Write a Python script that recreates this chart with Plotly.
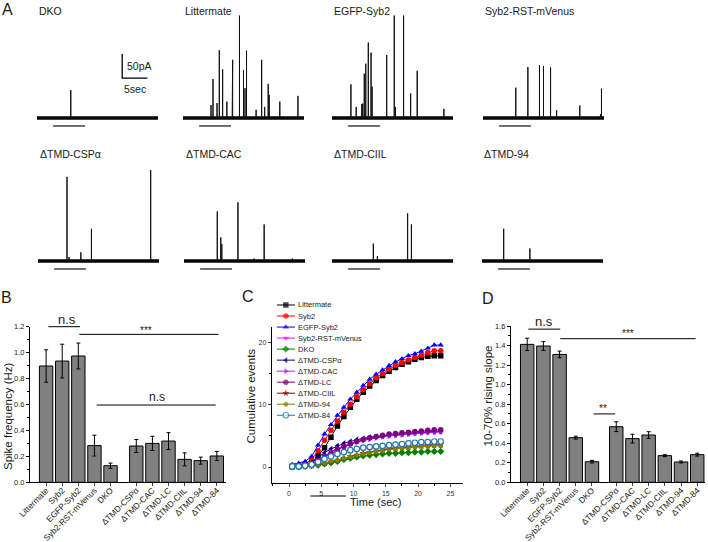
import plotly.graph_objects as go

W, H = 708, 542
FONT = "Liberation Sans, Arial, sans-serif"

# ---------------- Panel A data: spike times (s) and amplitudes (pA) ----------------
trace_labels = ["DKO", "Littermate", "EGFP-Syb2", "Syb2-RST-mVenus",
                "ΔTMD-CSPα", "ΔTMD-CAC", "ΔTMD-CIIL", "ΔTMD-94"]
t_dko = [6.7]
a_dko = [58]
t_litter = [5.56, 5.95, 6.75, 7.2, 7.86, 8.7, 9.75, 9.85, 11.2, 12.0, 12.3, 12.6,
            14.5, 15.6, 16.2, 16.9, 17.1, 19.2, 22.8]
a_litter = [27, 81, 31, 141, 101, 34, 20, 121, 213, 100, 62, 140,
            17, 121, 23, 71, 48, 34, 46]
t_egfp = [3.75, 4.8, 5.9, 6.1, 6.4, 6.7, 7.2, 7.75, 7.95, 10.85, 12.35, 12.6,
          14.2, 15.6, 16.9, 22.2]
a_egfp = [70, 23, 29, 30, 92, 113, 157, 136, 65, 131, 213, 23,
          213, 51, 98, 19]
t_rst = [6.5, 8.9, 11.2, 12.0, 13.4, 14.6, 19.2, 23.3, 23.5]
a_rst = [63, 106, 110, 108, 105, 16, 26, 8, 61]
t_cspa = [5.75, 6.15, 8.5, 10.6, 22.35]
a_cspa = [175, 8, 18, 67, 189]
t_cac = [6.6, 7.3, 7.5, 10.7, 13.9, 15.9, 21.5]
a_cac = [103, 49, 35, 122, 5, 76, 5]
t_ciil = [8.2, 9.0, 15.0, 15.75]
a_ciil = [36, 10, 99, 76]
t_94 = [4.3, 9.5]
a_94 = [67, 26]
trace_duration = 24.0
stim_window_a = [3.2, 9.5]
scale_pa = 50
scale_sec = 5

# ---------------- Panels B and D data ----------------
categories = ["Littermate", "Syb2", "EGFP-Syb2", "Syb2-RST-mVenus", "DKO",
              "ΔTMD-CSPα", "ΔTMD-CAC", "ΔTMD-LC", "ΔTMD-CIIL", "ΔTMD-94", "ΔTMD-84"]
freq_mean = [0.897, 0.935, 0.974, 0.283, 0.128, 0.280, 0.300, 0.318, 0.177, 0.167, 0.203]
freq_sem = [0.125, 0.130, 0.100, 0.080, 0.020, 0.050, 0.055, 0.065, 0.050, 0.027, 0.035]
slope_mean = [1.412, 1.395, 1.309, 0.457, 0.211, 0.569, 0.447, 0.484, 0.273, 0.208, 0.283]
slope_sem = [0.063, 0.045, 0.034, 0.015, 0.013, 0.050, 0.045, 0.034, 0.010, 0.010, 0.015]

# ---------------- Panel C data: cumulative events ----------------
time_s = [0.5, 1.5, 2.5, 3.5, 4.5, 5.5, 6.5, 7.5, 8.5, 9.5, 10.5, 11.5,
          12.5, 13.5, 14.5, 15.5, 16.5, 17.5, 18.5, 19.5, 20.5, 21.5, 22.5, 23.5]
cum_littermate = [0.1, 0.2, 0.3, 0.6, 1.8, 3.1, 4.8, 6.6, 8.1, 9.6, 10.9, 12.0,
                  13.0, 13.9, 14.7, 15.4, 16.0, 16.5, 16.9, 17.3, 17.6, 17.8, 17.9, 17.9]
cum_syb2 = [0.2, 0.3, 0.5, 1.2, 2.6, 4.3, 5.9, 7.4, 8.8, 10.1, 11.3, 12.4,
            13.4, 14.3, 15.0, 15.7, 16.3, 16.8, 17.2, 17.6, 18.0, 18.4, 18.7, 18.7]
cum_egfp = [0.4, 0.6, 0.9, 1.7, 3.5, 5.3, 6.8, 8.3, 9.6, 10.9, 12.0, 13.1,
            14.1, 14.9, 15.6, 16.3, 16.9, 17.4, 17.9, 18.2, 18.6, 19.1, 19.6, 19.6]
cum_rst = [0.1, 0.2, 0.3, 0.5, 1.1, 1.8, 2.5, 3.0, 3.4, 3.7, 4.0, 4.3,
           4.5, 4.7, 4.9, 5.0, 5.1, 5.2, 5.3, 5.4, 5.5, 5.5, 5.6, 5.6]
cum_dko = [0.0, 0.0, 0.1, 0.2, 0.3, 0.5, 0.7, 0.9, 1.2, 1.4, 1.6, 1.8,
           1.9, 2.0, 2.1, 2.2, 2.2, 2.3, 2.3, 2.4, 2.4, 2.5, 2.5, 2.5]
cum_cspa = [0.1, 0.2, 0.3, 0.7, 1.5, 2.3, 2.9, 3.4, 3.8, 4.1, 4.4, 4.6,
            4.8, 4.9, 5.0, 5.1, 5.2, 5.3, 5.4, 5.5, 5.6, 5.7, 5.7, 5.8]
cum_cac = [0.1, 0.2, 0.3, 0.5, 1.0, 1.7, 2.4, 2.9, 3.3, 3.7, 4.0, 4.3,
           4.5, 4.7, 4.9, 5.0, 5.1, 5.2, 5.3, 5.4, 5.5, 5.6, 5.6, 5.7]
cum_lc = [0.1, 0.2, 0.3, 0.5, 1.0, 1.6, 2.2, 2.8, 3.3, 3.7, 4.1, 4.4,
          4.7, 4.9, 5.1, 5.3, 5.4, 5.5, 5.6, 5.7, 5.8, 5.9, 6.0, 6.0]
cum_ciil = [0.0, 0.1, 0.1, 0.2, 0.4, 0.6, 0.8, 1.1, 1.4, 1.7, 1.9, 2.2,
            2.4, 2.6, 2.8, 2.9, 3.0, 3.1, 3.2, 3.3, 3.4, 3.5, 3.5, 3.6]
cum_94 = [0.0, 0.1, 0.1, 0.2, 0.4, 0.6, 0.9, 1.1, 1.4, 1.6, 1.9, 2.1,
          2.3, 2.5, 2.6, 2.8, 2.9, 3.0, 3.1, 3.2, 3.3, 3.3, 3.4, 3.4]
cum_84 = [0.1, 0.1, 0.2, 0.4, 0.8, 1.3, 1.7, 2.1, 2.4, 2.7, 2.9, 3.1,
          3.2, 3.3, 3.4, 3.5, 3.6, 3.7, 3.8, 3.9, 4.0, 4.0, 4.1, 4.1]
stim_window_c = [3.3, 8.8]

# ---------------- styles ----------------
series_colors = ["#000000", "#ff0000", "#0000ff", "#ff00ff", "#008000", "#000080",
                 "#a020f0", "#800080", "#8b0000", "#808000", "#1f78b4"]
series_symbols = ["square", "circle", "triangle-up", "triangle-down", "diamond",
                  "triangle-left", "triangle-right", "circle", "star", "pentagon", "circle"]
series_open = [False] * 10 + [True]
TXT = "#1a1a1a"


def fx(p):
    return p / W


def fy(p):
    return 1 - p / H


fig = go.Figure()
layout = dict(width=W, height=H, autosize=False, margin=dict(l=0, r=0, t=0, b=0, pad=0),
              paper_bgcolor="white", plot_bgcolor="rgba(0,0,0,0)",
              showlegend=False, font=dict(family=FONT, color=TXT),
              shapes=[], annotations=[])


def axkey(kind, i):
    return kind + "axis" + ("" if i == 1 else str(i))


def ref(kind, i):
    return kind + ("" if i == 1 else str(i))


def note(text, x, y, size, **kw):
    d = dict(text=text, xref="paper", yref="paper", x=fx(x), y=fy(y), xanchor="center",
             yanchor="middle", showarrow=False, font=dict(size=size))
    d.update(kw)
    layout["annotations"].append(d)


# ---------------- Panel A ----------------
spike_sets = [(t_dko, a_dko), (t_litter, a_litter), (t_egfp, a_egfp), (t_rst, a_rst),
              (t_cspa, a_cspa), (t_cac, a_cac), (t_ciil, a_ciil), (t_94, a_94)]
x_starts = [37, 183, 332, 483, 38, 184, 332, 482]
trace_w = 121
row_dom = [(14, 130), (157, 273)]
row_title_y = [10.5, 153.5]
y_rng = [-25, 216.3]

for k, (lab, (ts, amps)) in enumerate(zip(trace_labels, spike_sets)):
    i = k + 1
    row = 0 if k < 4 else 1
    x0 = x_starts[k]
    layout[axkey("x", i)] = dict(domain=[fx(x0), fx(x0 + trace_w)], range=[0, trace_duration],
                                 visible=False, anchor=ref("y", i), fixedrange=True)
    layout[axkey("y", i)] = dict(domain=[fy(row_dom[row][1]), fy(row_dom[row][0])], range=y_rng,
                                 visible=False, anchor=ref("x", i), fixedrange=True)
    fig.add_trace(go.Scatter(x=[0, trace_duration], y=[0, 0], mode="lines",
                             line=dict(color="black", width=3.5),
                             xaxis=ref("x", i), yaxis=ref("y", i), hoverinfo="skip"))
    xs, ys = [0], [0]
    for t, a in zip(ts, amps):
        xs += [t, t, t]
        ys += [0, a, 0]
    xs.append(trace_duration)
    ys.append(0)
    fig.add_trace(go.Scatter(x=xs, y=ys, mode="lines", line=dict(color="#111111", width=1),
                             xaxis=ref("x", i), yaxis=ref("y", i), hoverinfo="skip"))
    fig.add_trace(go.Scatter(x=stim_window_a, y=[-16.6, -16.6], mode="lines",
                             line=dict(color="#222222", width=1.3),
                             xaxis=ref("x", i), yaxis=ref("y", i), hoverinfo="skip"))
    note(lab, x0, row_title_y[row], 10.5, xanchor="left")

# scale bar in DKO axes
sb_x0, sb_y0 = 16.9, 83
fig.add_trace(go.Scatter(x=[sb_x0, sb_x0, sb_x0 + scale_sec], y=[sb_y0 + scale_pa, sb_y0, sb_y0],
                         mode="lines", line=dict(color="black", width=1.3),
                         xaxis="x", yaxis="y", hoverinfo="skip"))
layout["annotations"].append(dict(text=f"{scale_pa}pA", xref="x", yref="y", x=sb_x0 + 0.5,
                                  y=sb_y0 + scale_pa / 2, xanchor="left", yanchor="middle",
                                  showarrow=False, font=dict(size=10.5)))
layout["annotations"].append(dict(text=f"{scale_sec}sec", xref="x", yref="y",
                                  x=sb_x0 + scale_sec / 2 + 0.1, y=60, xanchor="center",
                                  yanchor="middle", showarrow=False, font=dict(size=10.5)))


def yax_style(dom_top, dom_bot, rng, dtick, minor_dtick, fmt, xa):
    return dict(domain=[fy(dom_bot), fy(dom_top)], range=rng, showline=True, linecolor="black",
                linewidth=1, ticks="outside", ticklen=3, tickwidth=1, tickcolor="black",
                dtick=dtick, tick0=0, tickformat=fmt, showgrid=False, zeroline=False,
                tickfont=dict(size=7.5), anchor=xa, automargin=False,
                minor=dict(ticks="outside", ticklen=2, dtick=minor_dtick, tick0=0, tickcolor="black"))


def xcat_style(dom_l, dom_r, rng, pos, ya):
    return dict(domain=[fx(dom_l), fx(dom_r)], range=rng, showline=True,
                linecolor="black", linewidth=1, ticks="outside", ticklen=3,
                tickvals=pos, ticktext=categories, tickangle=-45, ticklabelstandoff=-4,
                tickfont=dict(size=8.4), showgrid=False, zeroline=False,
                anchor=ya, automargin=False)


n_first = 5
pos_b = [1, 2, 3, 4, 5] + [6.6 + j for j in range(len(categories) - n_first)]
pos_d = [1, 2, 3, 4, 5] + [6.5 + j for j in range(len(categories) - n_first)]

# ---------------- Panel B ----------------
iB = 9
layout[axkey("x", iB)] = xcat_style(30, 226, [0, 12.17], pos_b, ref("y", iB))
layout[axkey("y", iB)] = yax_style(326.7, 482.3, [0, 1.2], 0.2, 0.1, ".1f", ref("x", iB))
fig.add_trace(go.Bar(x=pos_b, y=freq_mean, width=0.83,
                     marker=dict(color="#808080", line=dict(color="black", width=1)),
                     error_y=dict(type="data", array=freq_sem, color="black", thickness=1, width=2),
                     xaxis=ref("x", iB), yaxis=ref("y", iB)))

# ---------------- Panel D ----------------
iD = 12
layout[axkey("x", iD)] = xcat_style(511, 705, [0, 11.98], pos_d, ref("y", iD))
layout[axkey("y", iD)] = yax_style(326.0, 482.3, [0, 1.6], 0.2, 0.1, ".1f", ref("x", iD))
fig.add_trace(go.Bar(x=pos_d, y=slope_mean, width=0.83,
                     marker=dict(color="#808080", line=dict(color="black", width=1)),
                     error_y=dict(type="data", array=slope_sem, color="black", thickness=1, width=2),
                     xaxis=ref("x", iD), yaxis=ref("y", iD)))


def sig(xa, ya, x0, x1, yv, ymax, label, tx, ty, size):
    layout["shapes"].append(dict(type="line", xref=xa, yref=ya + " domain", x0=x0, x1=x1,
                                 y0=yv / ymax, y1=yv / ymax, line=dict(color="black", width=1)))
    layout["annotations"].append(dict(text=label, xref=xa, yref=ya + " domain", x=tx,
                                      y=ty / ymax, xanchor="center", yanchor="middle",
                                      showarrow=False, font=dict(size=size)))


sig(ref("x", iB), ref("y", iB), 1.14, 3.1, 1.2, 1.2, "n.s", 2.31, 1.252, 13)
sig(ref("x", iB), ref("y", iB), 3.06, 11.7, 1.141, 1.2, "***", 7.2, 1.174, 10)
sig(ref("x", iB), ref("y", iB), 4.14, 11.53, 0.596, 1.2, "n.s", 7.9, 0.656, 12)
sig(ref("x", iD), ref("y", iD), 1.07, 3.04, 1.568, 1.6, "n.s", 2.02, 1.643, 13)
sig(ref("x", iD), ref("y", iD), 3.04, 11.4, 1.47, 1.6, "***", 7.2, 1.522, 10)
sig(ref("x", iD), ref("y", iD), 5.1, 6.43, 0.70, 1.6, "**", 5.66, 0.756, 10)

# ---------------- Panel C ----------------
iC = 10
layout[axkey("x", iC)] = dict(domain=[fx(271.7), fx(463.3)], range=[-2.68, 27.0], showline=True,
                              linecolor="black", linewidth=1, ticks="outside", ticklen=3,
                              dtick=5, tick0=0, showgrid=False, zeroline=False,
                              tickfont=dict(size=7, color="#333333"), anchor=ref("y", iC),
                              automargin=False,
                              minor=dict(ticks="outside", ticklen=2, dtick=2.5, tick0=0,
                                         tickcolor="black"))
layout[axkey("y", iC)] = dict(domain=[fy(483.3), fy(326.7)], range=[-2.62, 22.55], showline=True,
                              linecolor="black", linewidth=1, ticks="outside", ticklen=3,
                              dtick=10, tick0=0, showgrid=False, zeroline=False,
                              tickfont=dict(size=7, color="#333333"), anchor=ref("x", iC),
                              automargin=False,
                              minor=dict(ticks="outside", ticklen=2, dtick=5, tick0=0,
                                         tickcolor="black"))
cum_series = [cum_littermate, cum_syb2, cum_egfp, cum_rst, cum_dko, cum_cspa,
              cum_cac, cum_lc, cum_ciil, cum_94, cum_84]


def marker_for(j, size):
    if series_open[j]:
        return dict(symbol=series_symbols[j], size=size, color="white",
                    line=dict(color=series_colors[j], width=1.2))
    return dict(symbol=series_symbols[j], size=size, color=series_colors[j],
                line=dict(color=series_colors[j], width=0))


for j, ys in enumerate(cum_series):
    fig.add_trace(go.Scatter(x=time_s, y=ys, mode="lines+markers",
                             line=dict(color=series_colors[j], width=1),
                             marker=marker_for(j, 5.5),
                             xaxis=ref("x", iC), yaxis=ref("y", iC), name=categories[j]))

layout["shapes"].append(dict(type="line", xref=ref("x", iC), yref=ref("y", iC) + " domain",
                             x0=stim_window_c[0], x1=stim_window_c[1], y0=-0.081, y1=-0.081,
                             line=dict(color="black", width=1.2)))

# legend for panel C, drawn as its own small axes
iL = 11
layout[axkey("x", iL)] = dict(domain=[fx(276.7), fx(295)], range=[0, 1], visible=False,
                              anchor=ref("y", iL))
layout[axkey("y", iL)] = dict(domain=[fy(420), fy(300)], range=[10.43, -0.453], visible=False,
                              anchor=ref("x", iL))
for j, name in enumerate(categories):
    mk = marker_for(j, 5.5)
    mk["size"] = [0, 5.5, 0]
    fig.add_trace(go.Scatter(x=[0, 0.5, 1], y=[j, j, j], mode="lines+markers",
                             line=dict(color=series_colors[j], width=1), marker=mk,
                             xaxis=ref("x", iL), yaxis=ref("y", iL), hoverinfo="skip"))
    layout["annotations"].append(dict(text=name, xref=ref("x", iL), yref=ref("y", iL),
                                      x=1.0, y=j, xanchor="left", yanchor="middle", xshift=1,
                                      showarrow=False, font=dict(size=7.5)))

# ---------------- axis titles and panel letters ----------------
note("Spike frequency (Hz)", 8, 416, 11.5, textangle=-90)
note("10-70% rising slope", 487.5, 396, 11.5, textangle=-90)
note("Cumulative events", 250.5, 396, 11.5, textangle=-90)
note("Time (sec)", 376, 501.7, 11)
note("A", 7.5, 9.5, 16)
note("B", 6, 297, 16)
note("C", 248, 296, 16)
note("D", 487.5, 298, 16)

fig.update_layout(**layout)
fig.write_html("out.html", config={"displayModeBar": False},
               post_script="document.body.style.margin='0';document.body.style.padding='0';")
